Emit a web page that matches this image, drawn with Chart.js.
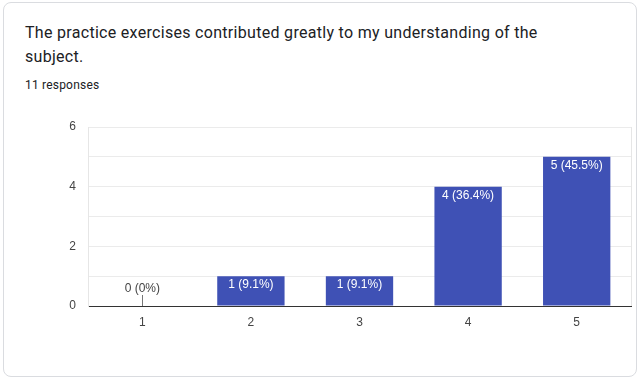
<!DOCTYPE html>
<html>
<head>
<meta charset="utf-8">
<script src="https://cdn.jsdelivr.net/npm/chart.js@4"></script>
<style>
  html, body { margin: 0; padding: 0; background: #ffffff; }
  body { width: 642px; height: 381px; position: relative; overflow: hidden; }
  .card { position: absolute; left: 3px; top: 2px; width: 634px; height: 375px; border: 1px solid #dadce0; border-radius: 8px; box-sizing: border-box; background: #fff; }
  .title { position: absolute; left: 25px; top: 21px; width: 535px; font-family: Roboto, "Noto Sans", sans-serif; font-size: 16px; line-height: 24px; color: #202124; letter-spacing: 0.3px; }
  .resp { position: absolute; left: 25px; top: 77px; font-family: Roboto, "Noto Sans", sans-serif; font-size: 12px; line-height: 16px; color: #202124; letter-spacing: 0.2px; }
  #wrap { position: absolute; left: 0; top: 0; width: 642px; height: 381px; }
</style>
</head>
<body>
<div class="card"></div>
<div class="title">The practice exercises contributed greatly to my understanding of the subject.</div>
<div class="resp">11 responses</div>
<div id="wrap"><canvas id="c"></canvas></div>
<script>
const categories = ['1', '2', '3', '4', '5'];
const counts = [0, 1, 1, 4, 5];
const yTickLabels = [0, 2, 4, 6];

const total = counts.reduce((a, b) => a + b, 0);
const pctLabel = v => {
  const p = total ? (v / total * 100) : 0;
  const s = (Math.round(p * 10) / 10).toString();
  return v + ' (' + s + '%)';
};

const labelPlugin = {
  id: 'barLabels',
  afterDatasetsDraw(chart) {
    const ctx = chart.ctx;
    const meta = chart.getDatasetMeta(0);
    const base = chart.scales.y.getPixelForValue(0);
    ctx.save();
    ctx.font = '12px "Liberation Sans", Arial, sans-serif';
    ctx.textAlign = 'center';
    ctx.textBaseline = 'middle';
    meta.data.forEach((bar, i) => {
      const v = counts[i];
      const txt = pctLabel(v);
      if (v > 0) {
        ctx.fillStyle = '#ffffff';
        ctx.fillText(txt, bar.x, bar.y + 9);
      } else {
        ctx.fillStyle = '#444444';
        ctx.fillText(txt, bar.x, base - 17);
        ctx.strokeStyle = '#777777';
        ctx.lineWidth = 1;
        ctx.beginPath();
        ctx.moveTo(Math.round(bar.x) + 0.5, base - 11);
        ctx.lineTo(Math.round(bar.x) + 0.5, base);
        ctx.stroke();
      }
    });
    const a = chart.chartArea;
    ctx.strokeStyle = '#e6e6e6';
    ctx.beginPath();
    ctx.moveTo(Math.round(a.right) + 0.5, a.top);
    ctx.lineTo(Math.round(a.right) + 0.5, a.bottom);
    ctx.stroke();
    ctx.restore();
  }
};

new Chart(document.getElementById('c'), {
  type: 'bar',
  data: {
    labels: categories,
    datasets: [{
      data: counts,
      backgroundColor: '#3f51b5',
      borderWidth: 0,
      categoryPercentage: 1,
      barPercentage: 0.62
    }]
  },
  options: {
    responsive: true,
    maintainAspectRatio: false,
    animation: false,
    events: [],
    layout: { padding: { top: 127, right: 11, bottom: 0, left: 0 } },
    plugins: { legend: { display: false }, tooltip: { enabled: false } },
    scales: {
      x: {
        grid: { display: false, drawTicks: false },
        border: { display: true, color: '#333333', width: 1 },
        ticks: { color: '#444444', font: { family: '"Liberation Sans", Arial, sans-serif', size: 12 }, padding: 9 },
        afterFit: s => { s.height = 75; }
      },
      y: {
        min: 0,
        max: 6,
        grid: { drawTicks: false, color: '#ebebeb' },
        border: { display: true, color: '#e6e6e6', width: 1 },
        ticks: {
          stepSize: 1,
          color: '#444444',
          padding: 12,
          font: { family: '"Liberation Sans", Arial, sans-serif', size: 12 },
          callback: v => yTickLabels.includes(v) ? String(v) : ''
        },
        afterFit: s => { s.width = 88; }
      }
    }
  },
  plugins: [labelPlugin]
});
</script>
</body>
</html>
